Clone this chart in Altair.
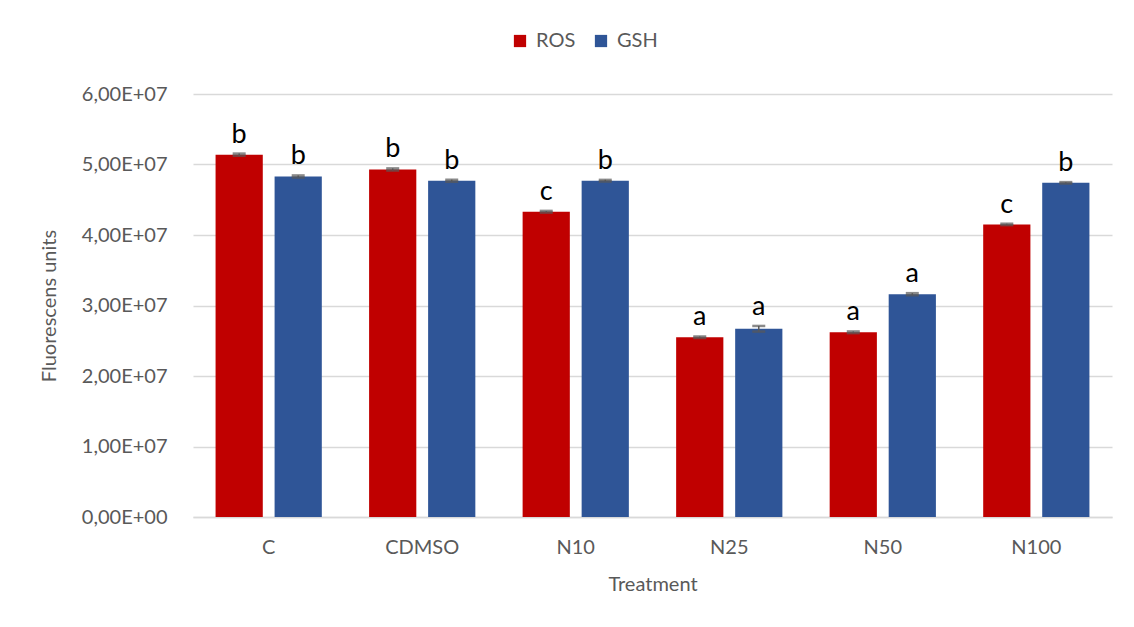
import altair as alt
import pandas as pd

treatments = ["C", "CDMSO", "N10", "N25", "N50", "N100"]
series = ["ROS", "GSH"]
ros_values = [5.14e7, 4.93e7, 4.33e7, 2.55e7, 2.62e7, 4.15e7]
gsh_values = [4.83e7, 4.77e7, 4.77e7, 2.67e7, 3.16e7, 4.74e7]
ros_err = [1.5e5, 1.5e5, 1.2e5, 1.2e5, 1.2e5, 1.0e5]
gsh_err = [1.5e5, 1.5e5, 1.2e5, 4.0e5, 1.5e5, 1.0e5]
ros_letters = ["b", "b", "c", "a", "a", "c"]
gsh_letters = ["b", "b", "b", "a", "a", "b"]
y_ticks = [0, 1e7, 2e7, 3e7, 4e7, 5e7, 6e7]
colors = ["#C00000", "#2F5597"]

rows = []
for i, t in enumerate(treatments):
    rows.append({"Treatment": t, "Series": "ROS", "Value": ros_values[i],
                 "lo": ros_values[i] - ros_err[i], "hi": ros_values[i] + ros_err[i],
                 "Letter": ros_letters[i]})
    rows.append({"Treatment": t, "Series": "GSH", "Value": gsh_values[i],
                 "lo": gsh_values[i] - gsh_err[i], "hi": gsh_values[i] + gsh_err[i],
                 "Letter": gsh_letters[i]})
df = pd.DataFrame(rows)

FONT = "Lato"
GRAY = "#595959"

x_enc = alt.X("Treatment:N", sort=treatments,
              scale=alt.Scale(paddingInner=0.308, paddingOuter=0.147),
              axis=alt.Axis(title="Treatment", labelAngle=0, labelFontSize=20,
                            labelColor=GRAY, labelFont=FONT, titleFont=FONT,
                            titleFontSize=20, titleColor=GRAY, titleFontWeight="normal",
                            ticks=False, domainColor="#D9D9D9", domainWidth=1.5,
                            labelPadding=20, titlePadding=17))
xoff = alt.XOffset("Series:N", sort=series, scale=alt.Scale(paddingInner=0.2, paddingOuter=0))
label_expr = ("datum.value == 0 ? '0,00E+00' : "
              "replace(format(datum.value / 10000000, '.2f'), '.', ',') + 'E+07'")
y_enc = alt.Y("Value:Q", scale=alt.Scale(domain=[0, 6e7], nice=False),
              axis=alt.Axis(title="Fluorescens units", values=y_ticks, labelExpr=label_expr,
                            labelFontSize=20, labelColor=GRAY, labelFont=FONT,
                            titleFont=FONT, titleFontSize=20, titleColor=GRAY,
                            titleFontWeight="normal", domain=False, ticks=False,
                            labelPadding=26, titlePadding=22,
                            gridColor="#D9D9D9", gridWidth=1.3))

base = alt.Chart(df)

bars = base.mark_bar(stroke=None).encode(
    x=x_enc,
    xOffset=xoff,
    y=y_enc,
    color=alt.Color("Series:N", sort=series,
                    scale=alt.Scale(domain=series, range=colors),
                    legend=alt.Legend(title=None, orient="none", legendX=317, legendY=-63,
                                      direction="horizontal", symbolType="square",
                                      symbolSize=150, symbolStrokeWidth=0,
                                      labelFontSize=20, labelColor=GRAY, labelFont=FONT,
                                      columnPadding=15, labelOffset=6)),
)

err = base.mark_rule(color=GRAY, strokeWidth=1.5).encode(
    x=alt.X("Treatment:N", sort=treatments),
    xOffset=alt.XOffset("Series:N", sort=series),
    y="lo:Q",
    y2="hi:Q",
)
cap_hi = base.mark_tick(color=GRAY, thickness=2.5, size=13).encode(
    x=alt.X("Treatment:N", sort=treatments),
    xOffset=alt.XOffset("Series:N", sort=series),
    y="hi:Q",
)
cap_lo = base.mark_tick(color=GRAY, thickness=2.5, size=13).encode(
    x=alt.X("Treatment:N", sort=treatments),
    xOffset=alt.XOffset("Series:N", sort=series),
    y="lo:Q",
)
letters = base.mark_text(font=FONT, fontSize=27, color="#000000",
                         baseline="alphabetic", dy=-11).encode(
    x=alt.X("Treatment:N", sort=treatments),
    xOffset=alt.XOffset("Series:N", sort=series),
    y="hi:Q",
    text="Letter:N",
)

chart = alt.layer(bars, err, cap_hi, cap_lo, letters).properties(
    width=919, height=423,
    background="white",
    autosize=alt.AutoSizeParams(type="none"),
    padding={"left": 185, "top": 86, "right": 14, "bottom": 96},
).configure_view(stroke=None, strokeWidth=0)

chart.save("out.html", embed_options={"renderer": "svg", "actions": False})
